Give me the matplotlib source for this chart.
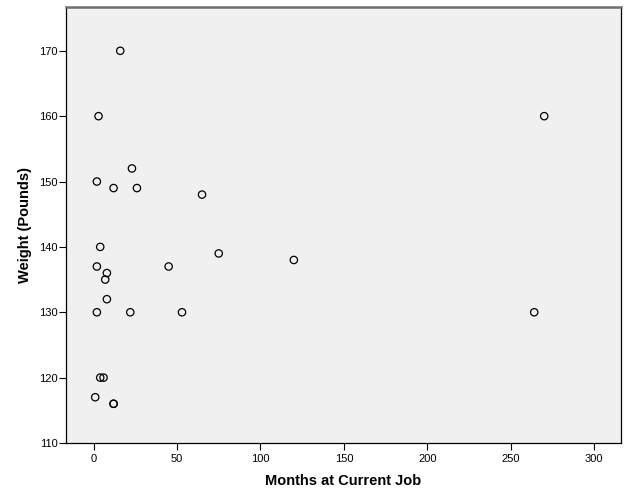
import matplotlib
matplotlib.use('Agg')
import matplotlib.pyplot as plt

plt.rcParams['font.family'] = ['Liberation Sans', 'DejaVu Sans']

months = [16, 3, 270, 2, 23, 12, 26, 65, 4, 75, 120, 2, 45, 8, 7, 8,
          2, 22, 53, 264, 4, 6, 1, 12, 12]
weight = [170, 160, 160, 150, 152, 149, 149, 148, 140, 139, 138, 137, 137,
          136, 135, 132, 130, 130, 130, 130, 120, 120, 117, 116, 116]

xticks = [0, 50, 100, 150, 200, 250, 300]
yticks = [110, 120, 130, 140, 150, 160, 170]


def plot_data():
    fig = plt.figure(figsize=(6.29, 5.04), dpi=100)
    ax = fig.add_axes([66 / 629, 61 / 504, 555 / 629, 436 / 504])
    ax.set_facecolor('#f0f0f0')

    ax.scatter(months, weight, s=28, facecolors='none', edgecolors='black',
               linewidths=0.9, zorder=3)

    ax.set_xlim(-16.5, 316)
    ax.set_ylim(110, 176.7)
    ax.set_xticks(xticks)
    ax.set_yticks(yticks)
    ax.tick_params(axis='both', direction='out', length=5, width=0.8,
                   labelsize=8, colors='black')
    ax.tick_params(axis='y', pad=1)
    ax.tick_params(axis='x', pad=3)

    for side in ['left', 'bottom', 'right']:
        ax.spines[side].set_color('black')
        ax.spines[side].set_linewidth(0.9)
    ax.spines['top'].set_color('#707070')
    ax.spines['top'].set_linewidth(1.8)

    ax.set_xlabel('Months at Current Job', fontsize=10.5, fontweight='bold',
                  labelpad=7)
    ax.set_ylabel('Weight (Pounds)', fontsize=10.5, fontweight='bold',
                  labelpad=5)

    fig.savefig('out.png', dpi=100)


if __name__ == '__main__':
    plot_data()
